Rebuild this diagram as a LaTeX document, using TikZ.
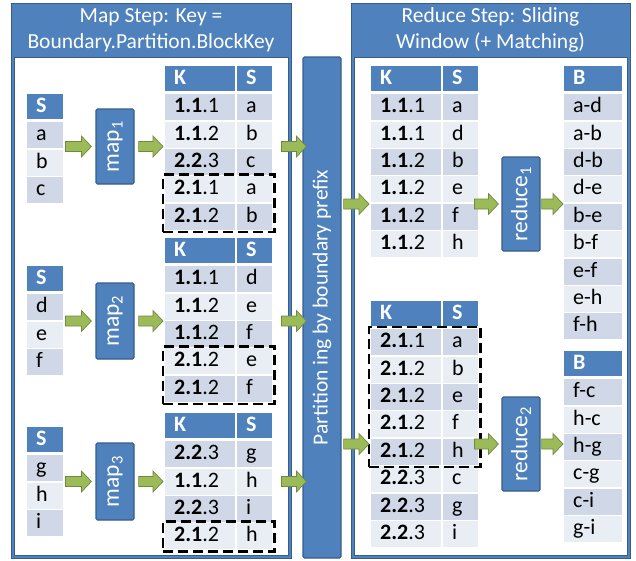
\documentclass[tikz,border=0pt]{standalone}
\usepackage{fontspec}
\setmainfont{Carlito}
\usetikzlibrary{calc,fit}
\definecolor{hblue}{HTML}{4F81BD}
\definecolor{bdark}{HTML}{385D8A}
\definecolor{rowD}{HTML}{D0D8E8}
\definecolor{rowL}{HTML}{E9EDF4}
\definecolor{gfill}{HTML}{9BBB59}
\definecolor{gline}{HTML}{71893F}
\tikzset{
 cellbase/.style={anchor=north west, inner xsep=9pt, inner ysep=0pt, align=left, text height=15.5pt, text depth=4.5pt, font=\fontsize{22}{26}\selectfont},
 hdr/.style={cellbase, fill=hblue, text=white, minimum height=25pt, font=\fontsize{22}{26}\selectfont\bfseries},
 tcell/.style={cellbase, minimum height=26pt, text=black},
 kcol/.style={text width=52pt},
 scol/.style={text width=17pt},
 bcol/.style={text width=40pt},
 icol/.style={text width=18pt},
 procbox/.style={draw=bdark, fill=hblue, line width=1.2pt, rounded corners=1.5pt, minimum width=38pt, inner sep=0pt},
 proctext/.style={rotate=90, text=white, font=\fontsize{23.5}{26}\selectfont, inner sep=0pt},
 parttext/.style={rotate=90, text=white, font=\fontsize{21.5}{26}\selectfont, inner sep=0pt},
 dashbox/.style={draw=black, line width=2.8pt, dash pattern=on 10pt off 5pt, inner sep=2pt},
 garrow/.style={fill=gfill, draw=gline, line width=0.7pt},
 panelbox/.style={anchor=north west, draw=bdark, fill=hblue, line width=0.8pt, inner sep=0pt},
 pbody/.style={anchor=north west, draw=bdark, fill=white, line width=0.6pt, inner sep=0pt},
 ptitle/.style={text=white, align=center, font=\fontsize{21.5}{26}\selectfont, inner sep=0pt},
}
\newcommand\kv[2]{\textbf{#1}.#2}
\newcommand\ktable[4]{%
 \node[hdr,kcol] (#1hk) at (#2,#3) {K};
 \node[hdr,scol] (#1hs) at (#2+72,#3) {S};
 \foreach \k/\s [count=\i from 0] in {#4} {%
   \ifodd\i\def\rc{rowL}\else\def\rc{rowD}\fi
   \node[tcell,kcol,fill=\rc] (#1k\i) at (#2,#3+28+27.4*\i) {\k};
   \node[tcell,scol,fill=\rc] (#1s\i) at (#2+72,#3+28+27.4*\i) {\s};
 }}
\newcommand\stable[6]{%
 \node[hdr,#5] (#1h) at (#2,#3) {#4};
 \foreach \v [count=\i from 0] in {#6} {%
   \ifodd\i\def\rc{rowL}\else\def\rc{rowD}\fi
   \node[tcell,#5,fill=\rc] (#1r\i) at (#2,#3+28+27.4*\i) {\v};
 }}
\newcommand\barrow[3]{%
 \draw[garrow] let \p1=#1, \p2=#2, \p3=(#3) in
  (\x1,\y3+5pt) -- (\x2-10pt,\y3+5pt) -- (\x2-10pt,\y3+10.5pt) -- (\x2,\y3)
  -- (\x2-10pt,\y3-10.5pt) -- (\x2-10pt,\y3-5pt) -- (\x1,\y3-5pt) -- cycle;}
\begin{document}
\begin{tikzpicture}[x=1pt,y=-1pt]
\useasboundingbox (0,0) rectangle (636,560);
% panels
\node[panelbox, minimum width=280pt, minimum height=555pt] (lpanel) at (11,3) {};
\node[pbody, minimum width=274pt, minimum height=498pt] (lbody) at (14,57) {};
\node[ptitle] (ltitle) at (151,30) {Map Step: Key =\\Boundary.Partition.BlockKey};
\node[panelbox, minimum width=279pt, minimum height=555pt] (rpanel) at (351,3) {};
\node[pbody, minimum width=273pt, minimum height=498pt] (rbody) at (354,57) {};
\node[ptitle] (rtitle) at (490.5,30) {Reduce Step: Sliding\\Window (+ Matching)};
% partition bar
\node[procbox, minimum height=501pt] (part) at (322,307.5) {};
\node[parttext] (partt) at (part) {Partition ing by boundary prefix};
% map and reduce boxes
\node[procbox, minimum height=75pt] (map1) at (115,146.5) {};
\node[proctext] (map1t) at (map1) {map\textsubscript{1}};
\node[procbox, minimum height=76pt] (map2) at (115,321) {};
\node[proctext] (map2t) at (map2) {map\textsubscript{2}};
\node[procbox, minimum height=77pt] (map3) at (115,481.5) {};
\node[proctext] (map3t) at (map3) {map\textsubscript{3}};
\node[procbox, minimum height=94pt] (reduce1) at (521,204) {};
\node[proctext] (reduce1t) at (reduce1) {reduce\textsubscript{1}};
\node[procbox, minimum height=94pt] (reduce2) at (521,444) {};
\node[proctext] (reduce2t) at (reduce2) {reduce\textsubscript{2}};
% tables
\stable{ina}{27}{94}{S}{icol}{a,b,c}
\ktable{ka}{165}{66}{\kv{1.1}{1}/a, \kv{1.1}{2}/b, \kv{2.2}{3}/c, \kv{2.1}{1}/a, \kv{2.1}{2}/b}
\stable{inb}{27}{266}{S}{icol}{d,e,f}
\ktable{kb}{165}{238}{\kv{1.1}{1}/d, \kv{1.1}{2}/e, \kv{1.1}{2}/f, \kv{2.1}{2}/e, \kv{2.1}{2}/f}
\stable{inc}{27}{427}{S}{icol}{g,h,i}
\ktable{kc}{165}{413}{\kv{2.2}{3}/g, \kv{1.1}{2}/h, \kv{2.2}{3}/i, \kv{2.1}{2}/h}
\ktable{ra}{371}{66}{\kv{1.1}{1}/a, \kv{1.1}{1}/d, \kv{1.1}{2}/b, \kv{1.1}{2}/e, \kv{1.1}{2}/f, \kv{1.1}{2}/h}
\ktable{rb}{371}{301}{\kv{2.1}{1}/a, \kv{2.1}{2}/b, \kv{2.1}{2}/e, \kv{2.1}{2}/f, \kv{2.1}{2}/h, \kv{2.2}{3}/c, \kv{2.2}{3}/g, \kv{2.2}{3}/i}
\stable{ba}{564}{66}{B}{bcol}{a-d,a-b,d-b,d-e,b-e,b-f,e-f,e-h,f-h}
\stable{bb}{564}{351}{B}{bcol}{f-c,h-c,h-g,c-g,c-i,g-i}
% dashed groups
\node[dashbox, fit=(kak3)(kas4)] (da) {};
\node[dashbox, fit=(kbk3)(kbs4)] (db) {};
\node[dashbox, fit=(kck3)(kcs3)] (dc) {};
\node[dashbox, fit=(rbk0)(rbs4)] (dd) {};
% arrows
\barrow{($(inah.east)+(2,0)$)}{($(map1.west)+(-4,0)$)}{map1}
\barrow{($(map1.east)+(4,0)$)}{($(kahk.west)+(-2,0)$)}{map1}
\barrow{($(kahs.east)+(9,0)$)}{($(part.west)+(4,0)$)}{map1}
\barrow{($(inbh.east)+(2,0)$)}{($(map2.west)+(-4,0)$)}{map2}
\barrow{($(map2.east)+(4,0)$)}{($(kbhk.west)+(-2,0)$)}{map2}
\barrow{($(kbhs.east)+(9,0)$)}{($(part.west)+(4,0)$)}{map2}
\barrow{($(inch.east)+(2,0)$)}{($(map3.west)+(-4,0)$)}{map3}
\barrow{($(map3.east)+(4,0)$)}{($(kchk.west)+(-2,0)$)}{map3}
\barrow{($(kchs.east)+(9,0)$)}{($(part.west)+(4,0)$)}{map3}
\barrow{($(part.east)+(2,0)$)}{($(rahk.west)+(-2,0)$)}{reduce1}
\barrow{($(rahs.east)+(-4,0)$)}{($(reduce1.west)+(-3,0)$)}{reduce1}
\barrow{($(reduce1.east)+(1,0)$)}{($(bah.west)+(-1,0)$)}{reduce1}
\barrow{($(part.east)+(2,0)$)}{($(rbhk.west)+(-2,0)$)}{reduce2}
\barrow{($(rbhs.east)+(-4,0)$)}{($(reduce2.west)+(-3,0)$)}{reduce2}
\barrow{($(reduce2.east)+(1,0)$)}{($(bbh.west)+(-1,0)$)}{reduce2}
\end{tikzpicture}
\end{document}
